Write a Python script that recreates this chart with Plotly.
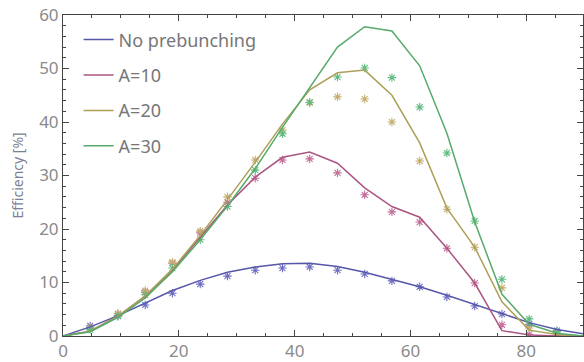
import plotly.graph_objects as go

# x positions of curve vertices (line data) and of simulation points (markers)
x_line = [0, 4.7, 9.5, 14.2, 18.9, 23.7, 28.4, 33.2, 37.9, 42.6, 47.4, 52.1,
          56.8, 61.6, 66.3, 71.1, 75.8, 80.5, 85.3, 90.0]
x_pts = [4.7, 9.5, 14.2, 18.9, 23.7, 28.4, 33.2, 37.9, 42.6, 47.4, 52.1,
         56.8, 61.6, 66.3, 71.1, 75.8, 80.5, 85.3]

names = ["No prebunching", "A=10", "A=20", "A=30"]

blue_line = [0, 1.7, 3.8, 6.2, 8.5, 10.4, 11.9, 12.9, 13.5, 13.6, 13.0, 11.9,
             10.6, 9.2, 7.6, 5.9, 4.1, 2.5, 1.2, 0.4]
red_line = [0, 0.9, 3.7, 7.4, 12.3, 18.4, 24.5, 29.7, 33.4, 34.4, 32.3, 27.7,
            24.2, 22.2, 16.4, 9.9, 1.0, 0.2, 0.0, 0.0]
yellow_line = [0, 0.9, 3.7, 7.5, 12.5, 18.8, 25.5, 32.5, 39.6, 46.0, 49.2, 49.7,
               45.0, 36.1, 23.9, 16.6, 6.4, 1.1, 0.3, 0.0]
green_line = [0, 0.8, 3.5, 7.1, 12.0, 18.0, 24.3, 31.3, 39.0, 46.5, 54.0, 57.8,
              57.0, 50.5, 37.9, 21.3, 7.8, 2.2, 0.5, 0.0]

blue_pts = [1.9, 3.7, 5.8, 8.0, 9.7, 11.2, 12.3, 12.7, 12.9, 12.3, 11.6, 10.3,
            9.2, 7.3, 5.6, 4.1, 2.2, 1.0]
red_pts = [1.5, 4.1, 8.2, 13.6, 19.3, 25.0, 29.5, 32.9, 33.1, 30.5, 26.4, 23.2,
           21.3, 16.4, 9.9, 2.1, 0.3, 0.0]
yellow_pts = [1.5, 4.2, 8.5, 13.8, 19.6, 26.0, 32.9, 38.5, 43.6, 44.7, 44.3, 40.0,
              32.7, 23.7, 16.6, 9.0, 1.5, 0.5]
green_pts = [1.2, 3.8, 7.7, 12.7, 18.0, 24.2, 31.0, 37.8, 43.7, 48.4, 50.1, 48.3,
             42.8, 34.2, 21.5, 10.6, 3.2, 0.8]

line_colors = ["#5656aa", "#aa5682", "#aca058", "#56aa6a"]
pt_colors = ["#6f6fc4", "#c46f9c", "#c4ae6f", "#5fbc80"]

lines = [blue_line, red_line, yellow_line, green_line]
pts = [blue_pts, red_pts, yellow_pts, green_pts]

fig = go.Figure()
for i in range(4):
    fig.add_trace(go.Scatter(x=x_pts, y=pts[i], mode="markers", showlegend=False,
                             marker=dict(symbol="asterisk-open", size=7,
                                         color=pt_colors[i],
                                         line=dict(color=pt_colors[i], width=1.1))))
for i in range(4):
    fig.add_trace(go.Scatter(x=x_line, y=lines[i], mode="lines", name=names[i],
                             legendgroup=names[i],
                             line=dict(color=line_colors[i], width=1.5)))

font = "Noto Sans"
axis_common = dict(showline=True, mirror="allticks", linecolor="#444", linewidth=1,
                   ticks="inside", tickcolor="#444", showgrid=False, zeroline=False,
                   tickfont=dict(family=font, size=17, color="#8a8a8a"))
fig.update_xaxes(range=[0, 89.8], tickvals=[0, 20, 40, 60, 80], ticklen=6,
                 minor=dict(dtick=5, ticks="inside", ticklen=3, tickcolor="#444"),
                 **axis_common)
fig.update_yaxes(range=[0, 60], tickvals=[0, 10, 20, 30, 40, 50, 60], ticklen=6,
                 minor=dict(dtick=2, ticks="inside", ticklen=3, tickcolor="#444"),
                 title=dict(text="Efficiency [%]", standoff=12,
                            font=dict(family=font, size=14, color="#7c8296")),
                 **axis_common)

fig.update_layout(
    width=584, height=362,
    margin=dict(l=63, r=1, t=15, b=26),
    paper_bgcolor="white", plot_bgcolor="white",
    legend=dict(x=0.03, y=0.98, xanchor="left", yanchor="top",
                font=dict(family=font, size=18, color="#777"),
                tracegroupgap=9, bgcolor="rgba(0,0,0,0)"),
)

fig.write_html("out.html")
